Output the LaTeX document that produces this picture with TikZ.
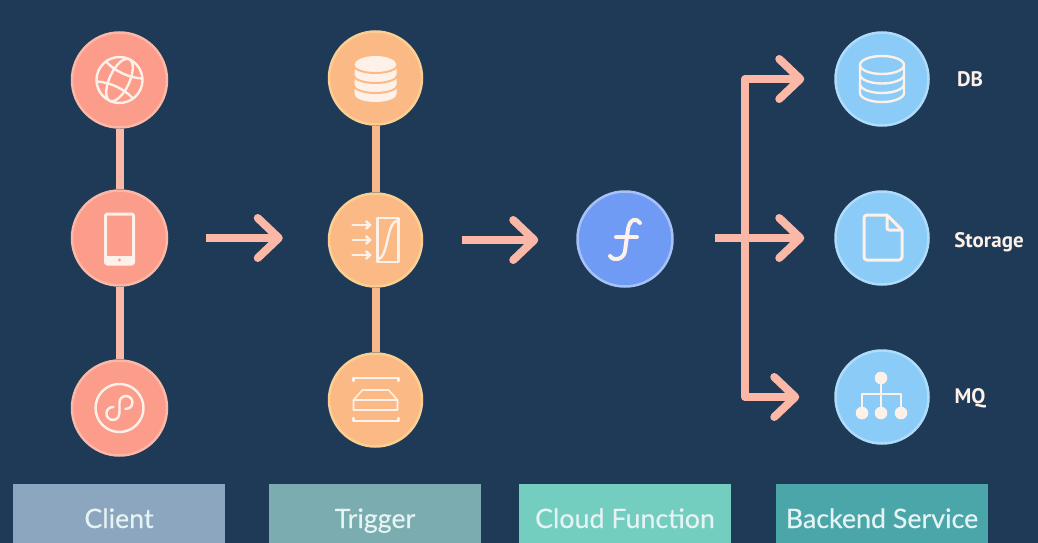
\documentclass[tikz,border=0pt]{standalone}
\usepackage{fontspec}
\setmainfont{Lato}[BoldFont=Lato, BoldFeatures={FakeBold=0.35}]
\newfontfamily\tagfont[BoldFont=PT Sans Bold]{PT Sans}
\usetikzlibrary{calc,arrows.meta,positioning}
\definecolor{bgnavy}{HTML}{1F3A56}
\definecolor{linesalmon}{HTML}{FBB8A6}
\definecolor{lineorange}{HTML}{F5B98C}
\definecolor{iconwhite}{HTML}{FDF1EA}
\definecolor{salmon}{HTML}{FC9C8B}
\definecolor{peach}{HTML}{FBBA85}
\definecolor{peachrim}{HTML}{FBCF92}
\definecolor{funcblue}{HTML}{709BF5}
\definecolor{funcrim}{HTML}{A6C2F6}
\definecolor{sky}{HTML}{8ACBF7}
\definecolor{skyrim}{HTML}{AEDCFA}
\definecolor{tagtext}{HTML}{E6F3F4}
\definecolor{tagclient}{HTML}{8DA6C0}
\definecolor{tagtrigger}{HTML}{7AACB0}
\definecolor{tagfunc}{HTML}{74CEBF}
\definecolor{tagbackend}{HTML}{4AA6A9}
\tikzset{
  dot/.style={circle, line width=2.5pt, minimum size=#1, inner sep=0pt},
  clientdot/.style={dot=95pt, draw=linesalmon, fill=salmon},
  triggerdot/.style={dot=93pt, draw=peachrim, fill=peach},
  funcdot/.style={dot=95pt, draw=funcrim, fill=funcblue},
  backenddot/.style={dot=93pt, draw=skyrim, fill=sky},
  tagbox/.style={minimum width=212pt, minimum height=70pt, inner sep=0pt,
    text height=21pt, text depth=3pt,
    text=tagtext, font=\bfseries\fontsize{26.8}{30}\selectfont},
  nametag/.style={text=iconwhite, font=\tagfont\bfseries\fontsize{21}{25}\selectfont},
  link/.style={line width=8pt},
  arr/.style={line width=8pt, linesalmon, line join=round,
    -{Straight Barb[length=21pt,width=40pt,round]}},
  icon/.style={draw=iconwhite, line width=2.4pt, line cap=round, line join=round},
  iconfill/.style={fill=iconwhite, draw=none}
}
\begin{document}
\begin{tikzpicture}[x=1pt, y=1pt, node distance=100pt and 100pt, on grid]

  \fill[bgnavy] (0,0) rectangle (1038,-543);
  \useasboundingbox (0,0) rectangle (1038,-543);

  % ---- Client column ----
  \node[clientdot] (phone) at (119.5,-238) {};
  \node[clientdot, above=158pt of phone] (globe) {};
  \node[clientdot, below=170pt of phone] (miniapp) {};
  \draw[link, linesalmon] (globe.south) -- (phone.north);
  \draw[link, linesalmon] (phone.south) -- (miniapp.north);

  % ---- Trigger column ----
  \node[triggerdot, right=256pt of phone, yshift=-2pt] (filter) {};
  \node[triggerdot, above=162pt of filter] (store) {};
  \node[triggerdot, below=160pt of filter] (scanbox) {};
  \draw[link, lineorange] (store.south) -- (filter.north);
  \draw[link, lineorange] (filter.south) -- (scanbox.north);

  % ---- Function and backend column ----
  \node[funcdot, right=249.5pt of filter, yshift=1pt] (func) {};
  \node[backenddot, right=257pt of func, yshift=1pt] (storage) {};
  \node[backenddot, above=159pt of storage] (db) {};
  \node[backenddot, below=159pt of storage] (mq) {};

  \node[nametag, right=88pt of db] (dbname) {DB};
  \node[nametag, right=107pt of storage, yshift=-4pt] (storagename) {Storage};
  \node[nametag, right=88pt of mq, yshift=-1pt] (mqname) {MQ};

  % ---- Arrows ----
  \draw[arr, shorten <=38pt, shorten >=45pt] (phone) -- (phone -| filter.west);
  \draw[arr, shorten <=39pt, shorten >=38pt] (filter) -- (filter -| func.west);
  \draw[arr, shorten <=41pt, shorten >=30pt] (storage -| func.east) -- (storage.west);
  \coordinate[right=120pt of func, yshift=1pt] (branch);
  \draw[arr, shorten >=30pt] (branch) |- (db.west);
  \draw[arr, shorten >=35pt] (branch) |- (mq.west);

  % ---- Bottom tags ----
  \node[tagbox, fill=tagclient, below=281pt of phone, xshift=-0.5pt] (clienttag) {Client};
  \node[tagbox, fill=tagtrigger, below=279pt of filter, xshift=-0.5pt] (triggertag) {Trigger};
  \node[tagbox, fill=tagfunc, below=280pt of func] (functag) {Cloud Function};
  \node[tagbox, fill=tagbackend, below=281pt of storage] (backendtag) {Backend Service};

  % ---- Icons, client ----
  \begin{scope}[shift={(globe.center)}, rotate=-25]
    \draw[icon] (0,0) circle (23);
    \draw[icon] (0,0) ellipse (10 and 23);
    \draw[icon] (-20,11) .. controls (-8,6) and (8,6) .. (20,11);
    \draw[icon] (-20,-11) .. controls (-8,-6) and (8,-6) .. (20,-11);
  \end{scope}
  \begin{scope}[shift={(phone.center)}]
    \draw[icon, line width=3pt, rounded corners=1.5pt] (-14,24) rectangle (14,-26);
    \fill[iconfill] (-14,-26) rectangle (14,-18);
    \fill[salmon] (0,-22) circle (1.6);
  \end{scope}
  \begin{scope}[shift={(miniapp.center)}]
    \draw[icon] (0,0) circle (24);
    \draw[icon] (-6,1) arc[start angle=85, end angle=360, radius=6.5]
      -- (0,5.5) arc[start angle=180, end angle=-95, radius=6.5];
  \end{scope}

  % ---- Icons, trigger ----
  \begin{scope}[shift={(store.center)}]
    \fill[iconfill] (-21,13) arc[start angle=180, end angle=0, x radius=21, y radius=9]
      -- (21,-16) arc[start angle=0, end angle=-180, x radius=21, y radius=8] -- cycle;
    \foreach \bandy in {13,3,-7} {
      \draw[peach, line width=2pt] (-22,\bandy)
        arc[start angle=180, end angle=360, x radius=22, y radius=8];
    }
  \end{scope}
  \begin{scope}[shift={(filter.center)}]
    \draw[icon] (2,22) rectangle (23,-22);
    \draw[icon] (2,-20) .. controls (14,-16) and (10,18) .. (23,20);
    \foreach \flowy in {15,0,-15} {
      \draw[icon, -{Straight Barb[length=4pt,width=8pt]}] (-23,\flowy) -- (-4,\flowy);
    }
  \end{scope}
  \begin{scope}[shift={(scanbox.center)}]
    \draw[icon] (-22,19) -- (-22,22) -- (23,22) -- (23,19);
    \draw[icon] (-22,-18) -- (-22,-21) -- (23,-21) -- (23,-18);
    \draw[icon, line width=1.6pt] (-13,10) -- (13,10) -- (22,0) -- (22,-10) -- (-22,-10) -- (-22,0) -- cycle;
    \draw[icon, line width=1.6pt] (-22,0) -- (22,0);
  \end{scope}

  % ---- Icons, function and backend ----
  \begin{scope}[shift={(func.center)}]
    \draw[icon, line width=4pt] (15,16) .. controls (12,21) and (5,21) .. (3,10)
      -- (0,-12) .. controls (-1,-20) and (-11,-23) .. (-15,-17);
    \draw[icon, line width=4pt] (-9,2) -- (12,2);
  \end{scope}
  \begin{scope}[shift={(db.center)}]
    \draw[icon] (0,14) ellipse (22 and 9);
    \draw[icon] (-22,14) -- (-22,-14) arc[start angle=180, end angle=360, x radius=22, y radius=9] -- (22,14);
    \draw[icon] (-22,4.5) arc[start angle=180, end angle=360, x radius=22, y radius=9];
    \draw[icon] (-22,-5) arc[start angle=180, end angle=360, x radius=22, y radius=9];
  \end{scope}
  \begin{scope}[shift={(storage.center)}]
    \draw[icon, line width=3pt, rounded corners=3pt] (5,23) -- (-18,23) -- (-18,-22) -- (20,-22) -- (20,8);
    \draw[icon, line width=3pt, rounded corners=2pt] (5,23) -- (5,8) -- (20,8) -- cycle;
  \end{scope}
  \begin{scope}[shift={(mq.center)}]
    \draw[icon, line width=1.5pt] (-1,19) -- (-1,-16);
    \draw[icon, line width=1.5pt] (-20,-16) -- (-20,3) -- (19,3) -- (19,-16);
    \fill[iconfill] (-1,19) circle (6.3);
    \foreach \leafx in {-20,-1,19} {
      \fill[iconfill] (\leafx,-16) circle (6.3);
    }
  \end{scope}

\end{tikzpicture}
\end{document}
